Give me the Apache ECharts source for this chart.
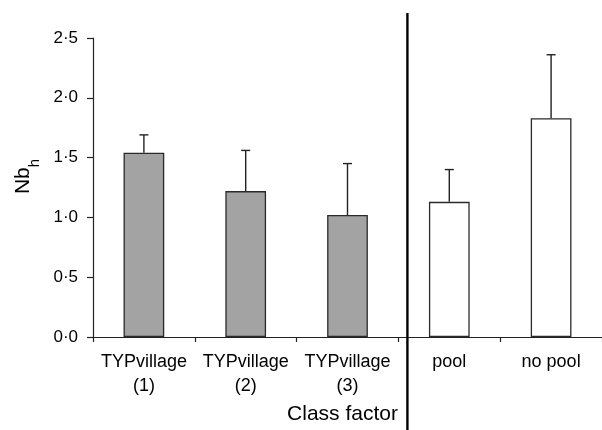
<!DOCTYPE html>
<html>
<head>
<meta charset="utf-8">
<script src="https://cdn.jsdelivr.net/npm/echarts@6/dist/echarts.min.js"></script>
<style>html,body{margin:0;padding:0;background:#fff;}#c{width:602px;height:430px;}</style>
</head>
<body>
<div id="c"></div>
<script>
var categories = ['TYPvillage\n(1)', 'TYPvillage\n(2)', 'TYPvillage\n(3)', 'pool', 'no pool'];
var groups = ['village', 'village', 'village', 'pool', 'pool'];
var means = [1.54, 1.22, 1.02, 1.13, 1.83];
var upper = [1.69, 1.56, 1.45, 1.40, 2.36];
var yTicks = [0, 0.5, 1.0, 1.5, 2.0, 2.5];

var FONT = 'Liberation Sans';
var groupFill = { village: '#a3a3a3', pool: '#ffffff' };

var chart = echarts.init(document.getElementById('c'), null, { renderer: 'canvas' });
var errData = categories.map(function (c, i) { return [i, means[i], upper[i]]; });

chart.setOption({
  animation: false,
  backgroundColor: '#fff',
  grid: { left: 93, top: 38, width: 510, height: 300, containLabel: false },
  xAxis: {
    type: 'category',
    data: categories,
    name: 'Class factor',
    nameLocation: 'middle',
    nameGap: 67,
    nameTextStyle: { fontFamily: FONT, fontSize: 21, color: '#000', padding: [0, 10, 0, 0] },
    axisLine: { lineStyle: { color: '#222', width: 1.2 } },
    axisTick: { show: true, inside: false, length: 5, alignWithLabel: false, lineStyle: { color: '#222', width: 1.2 } },
    axisLabel: { fontFamily: FONT, fontSize: 18, color: '#000', margin: 13, lineHeight: 24, interval: 0 },
    splitLine: { show: false }
  },
  yAxis: {
    type: 'value',
    min: yTicks[0],
    max: yTicks[yTicks.length - 1],
    interval: 0.5,
    name: '{n|Nb}{s|h}',
    nameLocation: 'middle',
    nameGap: 50,
    nameRotate: 90,
    nameTextStyle: {
      fontFamily: FONT, color: '#000', padding: [0, 0, 0, 22],
      rich: {
        n: { fontFamily: FONT, fontSize: 21, color: '#000', lineHeight: 30, verticalAlign: 'top' },
        s: { fontFamily: FONT, fontSize: 15, color: '#000', lineHeight: 30, verticalAlign: 'bottom' }
      }
    },
    axisLine: { show: true, lineStyle: { color: '#222', width: 1.2 } },
    axisTick: { show: true, inside: false, length: 6, lineStyle: { color: '#222', width: 1.2 } },
    axisLabel: {
      fontFamily: FONT, fontSize: 17, color: '#000', margin: 15,
      formatter: function (v) { return v.toFixed(1).replace('.', '\u00B7'); }
    },
    splitLine: { show: false }
  },
  series: [
    {
      type: 'bar',
      data: means,
      barWidth: '40%',
      itemStyle: {
        color: function (p) { return groupFill[groups[p.dataIndex]]; },
        borderColor: '#2a2a2a',
        borderWidth: 1.3
      },
      z: 2
    },
    {
      type: 'custom',
      data: errData,
      z: 3,
      renderItem: function (params, api) {
        var x = api.value(0);
        var base = api.coord([x, api.value(1)]);
        var top = api.coord([x, api.value(2)]);
        var hw = 4.5;
        return {
          type: 'group',
          children: [
            { type: 'line', shape: { x1: base[0], y1: base[1], x2: top[0], y2: top[1] }, style: { stroke: '#222', lineWidth: 1.4 } },
            { type: 'line', shape: { x1: top[0] - hw, y1: top[1], x2: top[0] + hw, y2: top[1] }, style: { stroke: '#222', lineWidth: 1.4 } }
          ]
        };
      }
    }
  ]
});

// divider between the two class-factor groups
var pPool = chart.convertToPixel({ xAxisIndex: 0 }, 'pool');
var pV3 = chart.convertToPixel({ xAxisIndex: 0 }, categories[2]);
var divX = (pPool + pV3) / 2 + 9;
chart.setOption({
  graphic: [
    { type: 'line', shape: { x1: divX, y1: 13, x2: divX, y2: 430 }, style: { stroke: '#000', lineWidth: 2.4 }, z: 10 }
  ]
});
</script>
</body>
</html>
